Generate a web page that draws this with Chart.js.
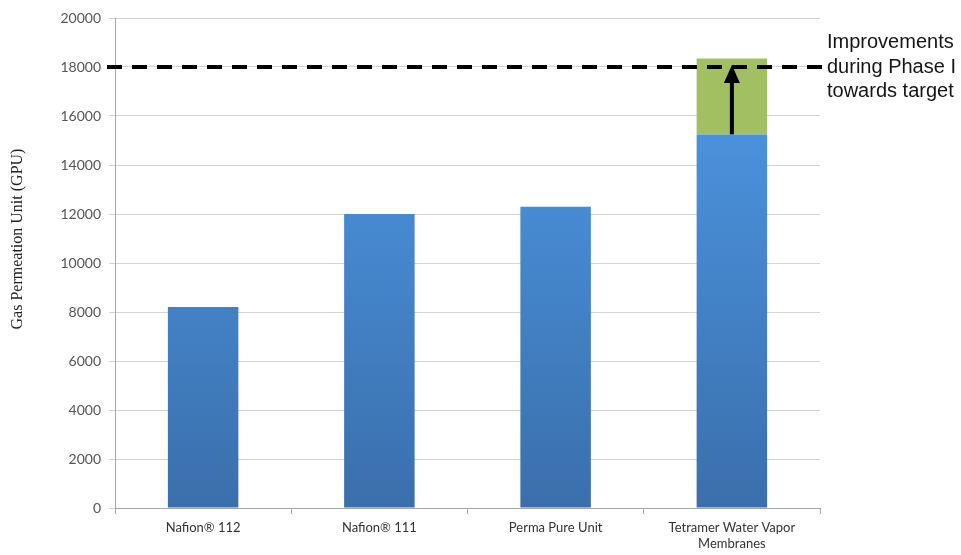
<!DOCTYPE html>
<html>
<head>
<meta charset="utf-8">
<script src="https://cdn.jsdelivr.net/npm/chart.js@4/dist/chart.umd.min.js"></script>
<style>
  html,body{margin:0;padding:0;background:#fff;}
  #wrap{width:961px;height:555px;position:relative;}
</style>
</head>
<body>
<div id="wrap"><canvas id="c" width="961" height="555"></canvas></div>
<script>
const categories = ["Nafion\u00AE 112", "Nafion\u00AE 111", "Perma Pure Unit", ["Tetramer Water Vapor", "Membranes"]];
const baseValues = [8200, 12000, 12300, 15250];
const improvementValues = [0, 0, 0, 3100];
const targetValue = 18000;
const yTicks = [0, 2000, 4000, 6000, 8000, 10000, 12000, 14000, 16000, 18000, 20000];
const annotationLines = ["Improvements", "during Phase I", "towards target"];
const yTitle = "Gas Permeation Unit (GPU)";

function blueGradient(ctx) {
  const chart = ctx.chart;
  const ca = chart.chartArea;
  if (!ca) return '#4689d2';
  const g = chart.ctx.createLinearGradient(0, ca.bottom, 0, ca.top + 120);
  g.addColorStop(0, '#3a6fab');
  g.addColorStop(1, '#4a91db');
  return g;
}

const overlay = {
  id: 'overlay',
  afterDatasetsDraw(chart) {
    const ctx = chart.ctx;
    const x = chart.scales.x, y = chart.scales.y;
    const yt = y.getPixelForValue(targetValue);
    // dashed target line
    ctx.save();
    ctx.strokeStyle = '#000';
    ctx.lineWidth = 4;
    ctx.setLineDash([15, 10]);
    ctx.beginPath();
    ctx.moveTo(x.left - 8, yt);
    ctx.lineTo(x.right + 2, yt);
    ctx.stroke();
    ctx.restore();
    // arrow on the last bar
    const idx = baseValues.length - 1;
    const ax = x.getPixelForValue(idx);
    const yBase = y.getPixelForValue(baseValues[idx]);
    ctx.save();
    ctx.strokeStyle = '#000';
    ctx.fillStyle = '#000';
    ctx.lineWidth = 4;
    ctx.beginPath();
    ctx.moveTo(ax, yBase);
    ctx.lineTo(ax, yt + 12);
    ctx.stroke();
    ctx.beginPath();
    ctx.moveTo(ax, yt - 2);
    ctx.lineTo(ax - 8, yt + 16);
    ctx.lineTo(ax + 8, yt + 16);
    ctx.closePath();
    ctx.fill();
    ctx.restore();
    // annotation text
    ctx.save();
    ctx.fillStyle = '#151515';
    ctx.font = '20px "Liberation Sans", Arial, sans-serif';
    ctx.textAlign = 'left';
    ctx.textBaseline = 'alphabetic';
    annotationLines.forEach((t, i) => ctx.fillText(t, x.right + 7, yt - 19 + i * 24.5));
    ctx.restore();
    // y axis title
    ctx.save();
    ctx.translate(18, (y.top + y.bottom) / 2 - 24);
    ctx.rotate(-Math.PI / 2);
    ctx.fillStyle = '#222';
    ctx.font = '16px "Liberation Serif", "Times New Roman", serif';
    ctx.textAlign = 'center';
    ctx.textBaseline = 'middle';
    ctx.fillText(yTitle, 0, 0);
    ctx.restore();
  }
};

new Chart(document.getElementById('c'), {
  type: 'bar',
  data: {
    labels: categories,
    datasets: [
      { data: baseValues, backgroundColor: blueGradient, borderWidth: 0, stack: 's' },
      { data: improvementValues, backgroundColor: '#a2c062', borderWidth: 0, stack: 's' }
    ]
  },
  options: {
    responsive: false,
    animation: false,
    devicePixelRatio: 1,
    layout: { padding: { top: 18, right: 141, left: 0, bottom: 0 } },
    plugins: { legend: { display: false }, tooltip: { enabled: false } },
    datasets: { bar: { categoryPercentage: 1, barPercentage: 0.4 } },
    scales: {
      x: {
        stacked: true,
        grid: { display: true, drawOnChartArea: false, color: '#a6a6a6', tickLength: 6, offset: true },
        border: { color: '#a6a6a6' },
        ticks: { color: '#333', font: { family: 'Lato, "Liberation Sans", sans-serif', size: 13 }, padding: 6, maxRotation: 0 },
        afterFit(s) { s.height = 47; }
      },
      y: {
        stacked: true,
        min: 0, max: 20000,
        afterBuildTicks(s) { s.ticks = yTicks.map(v => ({ value: v })); },
        grid: { color: '#d4d4d4', tickLength: 6 },
        border: { color: '#a6a6a6' },
        ticks: { color: '#555', font: { family: 'Lato, "Liberation Sans", sans-serif', size: 14 }, padding: 8, callback: v => String(v) },
        afterFit(s) { s.width = 115; }
      }
    }
  },
  plugins: [overlay]
});
</script>
</body>
</html>
